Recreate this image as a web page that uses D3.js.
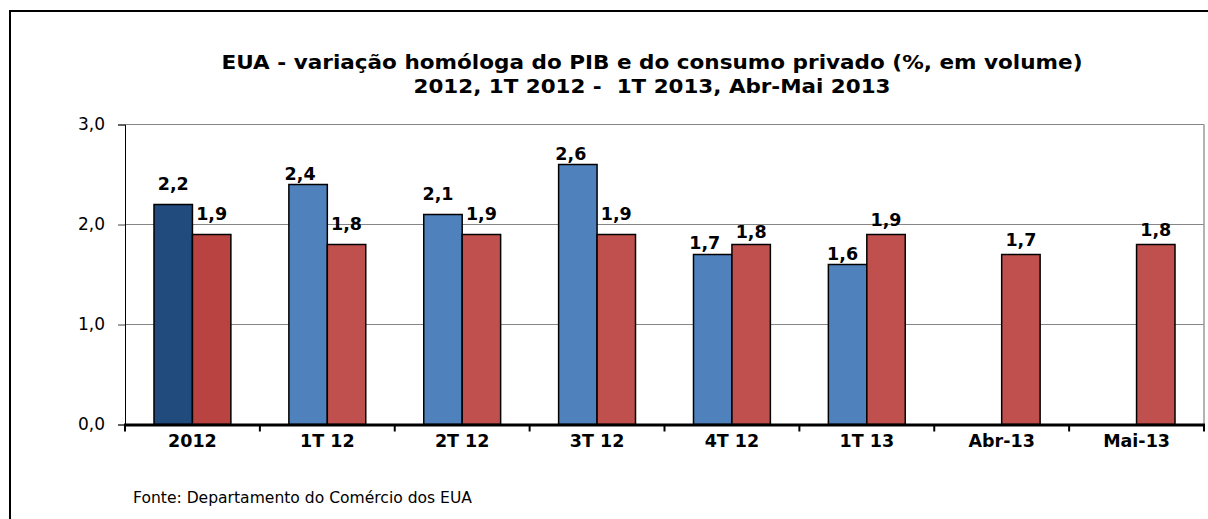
<!DOCTYPE html>
<html><head><meta charset="utf-8">
<script src="https://cdn.jsdelivr.net/npm/d3@7/dist/d3.min.js"></script>
<style>html,body{margin:0;padding:0;background:#fff;}svg{display:block;}</style>
</head><body>
<svg id="chart" width="1208" height="519"></svg>
<script>
const categories = ["2012","1T 12","2T 12","3T 12","4T 12","1T 13","Abr-13","Mai-13"];
const pib = [2.2, 2.4, 2.1, 2.6, 1.7, 1.6, null, null];
const consumo = [1.9, 1.8, 1.9, 1.9, 1.8, 1.9, 1.7, 1.8];
const yTicks = [0, 1, 2, 3];
const titleLines = ["EUA - variação homóloga do PIB e do consumo privado (%, em volume)",
                    "2012, 1T 2012 -  1T 2013, Abr-Mai 2013"];
const source = "Fonte: Departamento do Comércio dos EUA";

// label placement tweaks (layout only)
const labelLift = {pib:[21,11,21,11,12,11], cons:[21,21,21,21,13,15,15,15]};
const labelShift = {pib:[0,-8,-5,-7,-8,-5], cons:[0,0,0,0,0,0,0,0]};

const svg = d3.select("#chart");
const font = "'DejaVu Sans', Verdana, sans-serif";
const M = {left:125, right:1204, top:124.5, bottom:424.5};

// outer frame
svg.append("rect").attr("x",10).attr("y",11).attr("width",1300).attr("height",600)
  .attr("fill","none").attr("stroke","#000").attr("stroke-width",2);

const x = d3.scaleBand().domain(categories).range([M.left, M.right]).padding(0);
const y = d3.scaleLinear().domain([0,3]).range([M.bottom, M.top]);
const bw = x.bandwidth()*0.285;
const x1 = d3.scaleBand().domain(["pib","cons"]).range([-bw, bw]).padding(0);

// gridlines
svg.append("g").selectAll("line").data(yTicks.filter(d=>d>0)).join("line")
  .attr("x1",M.left).attr("x2",M.right).attr("y1",d=>y(d)).attr("y2",d=>y(d))
  .attr("stroke","#868686").attr("stroke-width",1);
// right border
svg.append("line").attr("x1",M.right).attr("x2",M.right).attr("y1",M.top).attr("y2",M.bottom)
  .attr("stroke","#9a9a9a").attr("stroke-width",1.5);

// y axis
const yAxis = d3.axisLeft(y).tickValues(yTicks).tickSize(7).tickPadding(13)
  .tickFormat(d=>d3.format(".1f")(d).replace(".",","));
const gy = svg.append("g").attr("transform",`translate(${M.left},0)`).call(yAxis);
gy.select(".domain").attr("stroke","#000");
gy.selectAll(".tick line").attr("stroke","#444");
gy.selectAll("text").attr("font-family",font).attr("font-size",17).attr("fill","#000");

// bars
const gb = svg.append("g");
const rows = [];
categories.forEach((c,i)=>{
  if (pib[i]!=null) rows.push({c,i,s:"pib",v:pib[i]});
  if (consumo[i]!=null) rows.push({c,i,s:"cons",v:consumo[i]});
});
function fillFor(d){
  if (d.s==="pib") return d.i===0 ? "#214a7d" : "#4f81bd";
  return d.i===0 ? "#b84341" : "#c0504d";
}
gb.selectAll("rect").data(rows).join("rect")
  .attr("x",d=>x(d.c)+x.bandwidth()/2+x1(d.s))
  .attr("width",x1.bandwidth())
  .attr("y",d=>y(d.v)).attr("height",d=>y(0)-y(d.v))
  .attr("fill",fillFor).attr("stroke","#000").attr("stroke-width",1.5);

// labels
svg.append("g").selectAll("text").data(rows).join("text")
  .attr("x",d=>x(d.c)+x.bandwidth()/2+x1(d.s)+x1.bandwidth()/2+(d.s==="pib"?labelShift.pib[d.i]:labelShift.cons[d.i]))
  .attr("y",d=>y(d.v)-(d.s==="pib"?labelLift.pib[d.i]:labelLift.cons[d.i]))
  .attr("dy","0.35em").attr("text-anchor","middle")
  .attr("font-family",font).attr("font-weight","bold").attr("font-size",17.5)
  .text(d=>d3.format(".1f")(d.v).replace(".",","));

// x axis
const xAxis = d3.axisBottom(x).tickSize(0).tickPadding(10);
const gx = svg.append("g").attr("transform",`translate(0,${M.bottom})`).call(xAxis);
gx.select(".domain").remove();
gx.selectAll(".tick line").remove();
gx.selectAll("text").attr("font-family",font).attr("font-weight","bold").attr("font-size",17.5).attr("fill","#000");
svg.append("line").attr("x1",M.left-1).attr("x2",M.right+1).attr("y1",M.bottom+0.5).attr("y2",M.bottom+0.5)
  .attr("stroke","#000").attr("stroke-width",3);
const bounds = categories.map(c=>x(c)).concat([M.right]);
svg.append("g").selectAll("line").data(bounds).join("line")
  .attr("x1",d=>d).attr("x2",d=>d).attr("y1",M.bottom).attr("y2",M.bottom+7)
  .attr("stroke","#000").attr("stroke-width",2);

// title
const titleWidths = [861, 477];
svg.append("g").selectAll("text").data(titleLines).join("text")
  .attr("x",652).attr("y",(d,i)=>69+i*24).attr("text-anchor","middle")
  .style("white-space","pre")
  .attr("textLength",(d,i)=>titleWidths[i]).attr("lengthAdjust","spacingAndGlyphs")
  .attr("font-family",font).attr("font-weight","bold").attr("font-size",20).text(d=>d);

// source
svg.append("text").attr("x",133).attr("y",503).attr("font-family",font).attr("font-size",15)
  .attr("textLength",339).attr("lengthAdjust","spacingAndGlyphs").text(source);
</script>
</body></html>
